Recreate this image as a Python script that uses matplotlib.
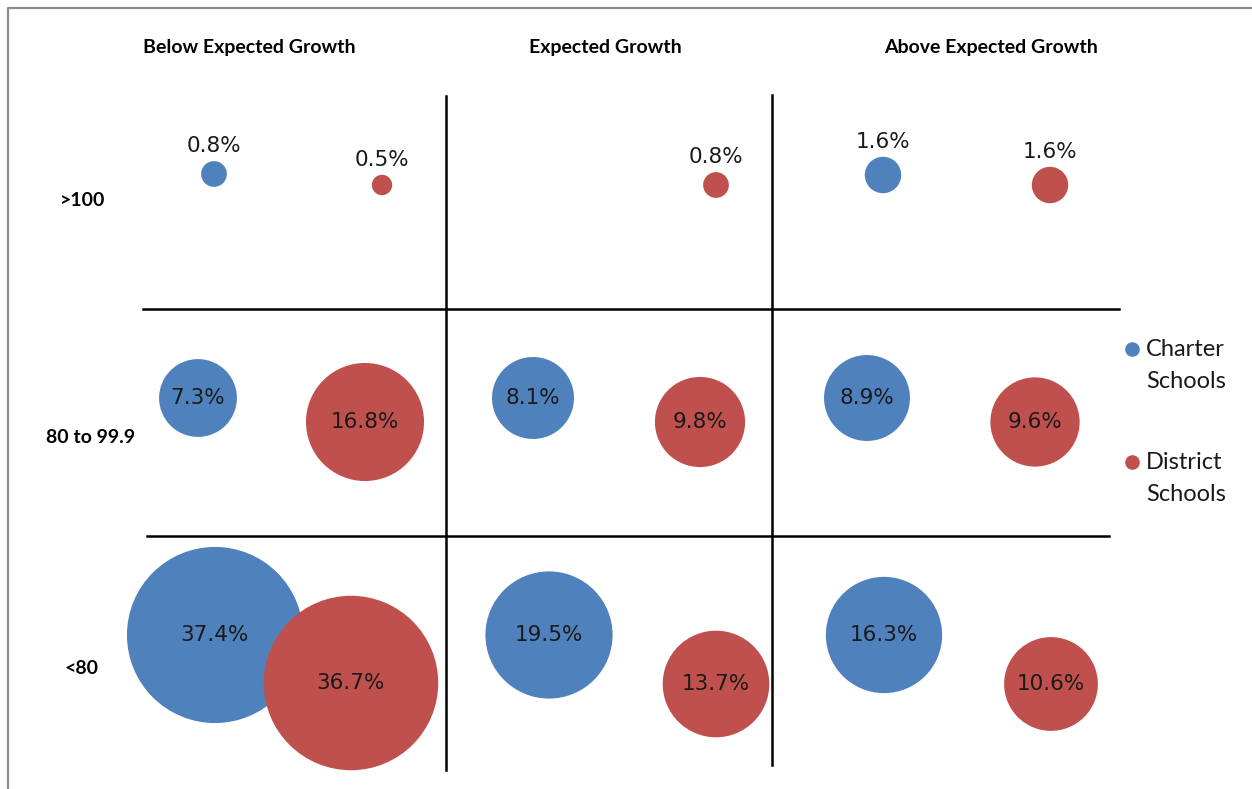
import matplotlib
matplotlib.use("Agg")
import matplotlib.pyplot as plt

# categories
growth = ["Below Expected Growth", "Expected Growth", "Above Expected Growth"]
bands = [">100", "80 to 99.9", "<80"]

# percent of schools (None = no bubble)
charter = [[0.8, None, 1.6],
           [7.3, 8.1, 8.9],
           [37.4, 19.5, 16.3]]
district = [[0.5, 0.8, 1.6],
            [16.8, 9.8, 9.6],
            [36.7, 13.7, 10.6]]

# bubble x / y values as placed in the original bubble chart
charter_x = [[214, 548, 883], [198, 533, 867], [215, 549, 884]]
charter_y = [[174, 174, 175], [398, 398, 398], [635, 635, 635]]
district_x = [[382, 716, 1050], [365, 700, 1035], [351, 716, 1051]]
district_y = [[185, 185, 185], [422, 422, 422], [683, 684, 684]]

blue = "#4F81BD"
red = "#C0504D"
W, H = 1252, 789

fig = plt.figure(figsize=(W / 100, H / 100), dpi=100)
ax = fig.add_axes([0, 0, 1, 1])
ax.set_xlim(0, W)
ax.set_ylim(H, 0)
ax.axis("off")

k = 14.4  # pixel radius per sqrt(percent)
def size(v):
    return (2 * k * (v ** 0.5) * 0.72) ** 2

def radius(v):
    return k * v ** 0.5

# outer frame
ax.plot([8, 8, W], [H, 8, 8], color="#8c8c8c", lw=1.6, solid_capstyle="butt")

# quadrant lines
ax.plot([446, 446], [96, 770], color="black", lw=1.8)
ax.plot([772, 772], [95, 765], color="black", lw=1.8)
ax.plot([143, 1119], [309, 309], color="black", lw=1.8)
ax.plot([147, 1109], [536, 536], color="black", lw=1.8)

labels = []
for r in range(3):
    for c in range(3):
        for vals, xs, ys, col in ((charter, charter_x, charter_y, blue),
                                  (district, district_x, district_y, red)):
            v = vals[r][c]
            if v is None:
                continue
            x, y = xs[r][c], ys[r][c]
            ax.scatter([x], [y], s=size(v), color=col, edgecolors="none", zorder=3)
            if r == 0:
                labels.append((x, y - radius(v) - 5, v, "bottom"))
            else:
                labels.append((x, y, v, "center"))

for x, y, v, va in labels:
    ax.text(x, y, f"{v}%", ha="center", va=va, fontsize=15.5,
            family="DejaVu Sans", color="#1a1a1a", zorder=5)

# column headers
for name, x in zip(growth, [249, 605, 991]):
    ax.text(x, 47, name, ha="center", va="center", fontsize=14,
            family="Lato", fontweight="bold", color="black")

# row labels
for name, x, y in zip(bands, [83, 91, 81], [200, 437, 668]):
    ax.text(x, y, name, ha="center", va="center", fontsize=14,
            family="Lato", fontweight="bold", color="black")

# legend
for col, name, y in ((blue, ["Charter", "Schools"], 349),
                     (red, ["District", "Schools"], 462)):
    ax.plot([1132], [y], "o", color=col, markersize=10.5, markeredgewidth=0)
    ax.text(1146, y, name[0], ha="left", va="center", fontsize=17,
            family="Lato", color="#1a1a1a")
    ax.text(1146, y + 32, name[1], ha="left", va="center", fontsize=17,
            family="Lato", color="#1a1a1a")

fig.savefig("out.png", dpi=100, facecolor="white")
